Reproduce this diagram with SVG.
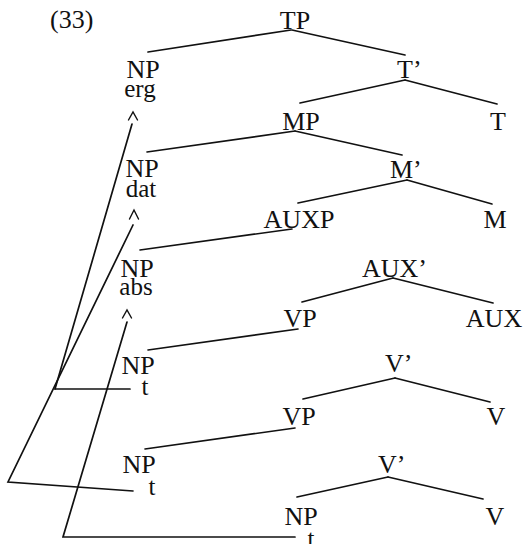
<svg xmlns="http://www.w3.org/2000/svg" width="525" height="544" viewBox="0 0 525 544">
<style>
text{font-family:"Liberation Serif","Times New Roman",serif;font-size:26px;fill:#111}
.c{text-anchor:middle}
.sub{font-size:25px}
line,polyline{stroke:#111;stroke-width:1.7;fill:none;stroke-linecap:round;stroke-linejoin:miter}
.chev{stroke-width:1.4}
</style>
<rect width="525" height="544" fill="#fff"/>
<g id="label33"><text x="50" y="28">(33)</text></g>
<g id="TP"><text class="c" x="295" y="29">TP</text></g>
<g id="NP_erg"><text class="c" x="143" y="78">NP</text><text class="c sub" x="140" y="97">erg</text></g>
<g id="Tbar"><text x="397" y="78">T’</text></g>
<g id="MP"><text class="c" x="301" y="130">MP</text></g>
<g id="T"><text class="c" x="498" y="130">T</text></g>
<g id="NP_dat"><text class="c" x="142" y="177">NP</text><text class="c sub" x="141" y="197">dat</text></g>
<g id="Mbar"><text x="390" y="178">M’</text></g>
<g id="AUXP"><text class="c" x="299" y="228">AUXP</text></g>
<g id="M"><text class="c" x="495" y="228">M</text></g>
<g id="NP_abs"><text class="c" x="137" y="277">NP</text><text class="c sub" x="136" y="295">abs</text></g>
<g id="AUXbar"><text x="362" y="277">AUX’</text></g>
<g id="VP1"><text class="c" x="300" y="327">VP</text></g>
<g id="AUX"><text class="c" x="494" y="327">AUX</text></g>
<g id="NP_t1"><text class="c" x="138" y="374">NP</text><text class="c sub" x="145" y="395">t</text></g>
<g id="Vbar1"><text x="385" y="372">V’</text></g>
<g id="VP2"><text class="c" x="299" y="425">VP</text></g>
<g id="V1"><text class="c" x="496" y="425">V</text></g>
<g id="NP_t2"><text class="c" x="139" y="473">NP</text><text class="c sub" x="152" y="495">t</text></g>
<g id="Vbar2"><text x="378" y="473">V’</text></g>
<g id="NP_bottom"><text class="c" x="301" y="525">NP</text><text class="c sub" x="311" y="547">t</text></g>
<g id="V2"><text class="c" x="495" y="525">V</text></g>
<g id="connectors">
<line x1="291" y1="30" x2="148" y2="52"/>
<line x1="292" y1="30" x2="405" y2="55"/>
<line x1="405" y1="80" x2="300" y2="103"/>
<line x1="405" y1="80" x2="497" y2="104"/>
<line x1="295" y1="131" x2="147" y2="152"/>
<line x1="295" y1="131" x2="402" y2="155"/>
<line x1="407" y1="180" x2="298" y2="203"/>
<line x1="407" y1="180" x2="492" y2="204"/>
<line x1="292" y1="229" x2="140" y2="250"/>
<line x1="393" y1="278" x2="302" y2="302"/>
<line x1="393" y1="278" x2="493" y2="303"/>
<line x1="298" y1="329" x2="148" y2="350"/>
<line x1="395" y1="378" x2="303" y2="399"/>
<line x1="395" y1="378" x2="490" y2="402"/>
<line x1="295" y1="428" x2="145" y2="449"/>
<line x1="388" y1="477" x2="297" y2="497"/>
<line x1="388" y1="477" x2="483" y2="499"/>
<polyline class="chev" points="128.5,120 133,112 137.5,120"/>
<polyline class="chev" points="129.5,219 134,210 138.5,219"/>
<polyline class="chev" points="122.5,318 127,310 131.5,318"/>
<line x1="132" y1="124" x2="55" y2="389"/>
<line x1="55" y1="389" x2="130" y2="389"/>
<polyline points="133,225 8,482 133,491"/>
<polyline points="127,322 63,537 295,537"/>
</g>
</svg>
